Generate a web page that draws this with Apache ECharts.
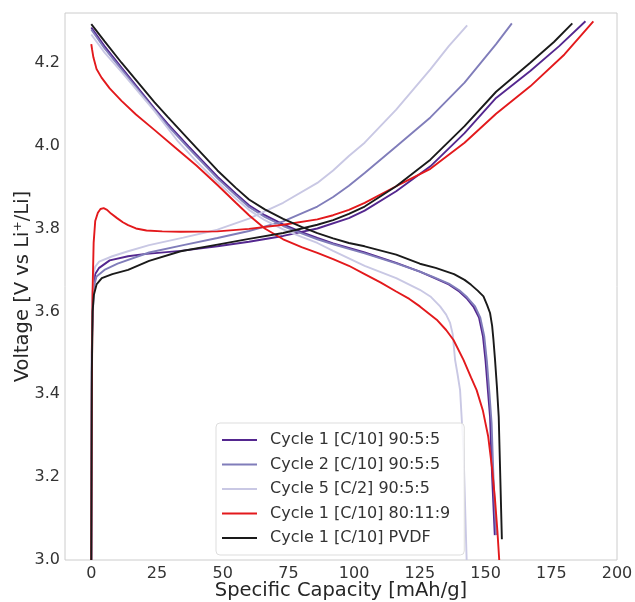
<!DOCTYPE html>
<html>
<head>
<meta charset="utf-8">
<script src="https://cdn.jsdelivr.net/npm/echarts@6/dist/echarts.min.js"></script>
<style>html,body{margin:0;padding:0;background:#fff}#c{width:635px;height:602px}</style>
</head>
<body>
<div id="c"></div>
<script>
const seriesNames = ['Cycle 1 [C/10] 90:5:5','Cycle 2 [C/10] 90:5:5','Cycle 5 [C/2] 90:5:5','Cycle 1 [C/10] 80:11:9','Cycle 1 [C/10] PVDF'];
const xTicks = [0,25,50,75,100,125,150,175,200];
const yTicks = [3.0,3.2,3.4,3.6,3.8,4.0,4.2];

const c1Charge = [[0,3.0],[0.2,3.5],[0.6,3.65],[1.5,3.69],[3,3.705],[7,3.723],[14,3.733],[20,3.738],[34,3.746],[48,3.757],[60,3.768],[73,3.782],[86,3.80],[98,3.825],[104,3.843],[116,3.89],[129,3.95],[142,4.03],[154,4.115],[167,4.18],[178,4.24],[188,4.30]];
const c1Discharge = [[0,4.285],[5,4.24],[11.5,4.188],[24,4.09],[29,4.053],[37,3.998],[48,3.925],[55,3.884],[60,3.856],[66,3.832],[73,3.81],[80,3.791],[86,3.777],[92,3.764],[98,3.753],[104,3.742],[116,3.717],[125,3.696],[130,3.682],[136,3.665],[140,3.648],[143,3.630],[145.5,3.61],[147.5,3.585],[149,3.54],[150,3.48],[151,3.40],[151.7,3.346],[152.5,3.2],[153.5,3.06]];

const c2Charge = [[0,3.0],[0.3,3.55],[1,3.66],[2,3.684],[5,3.70],[10,3.715],[22,3.742],[35,3.76],[48,3.777],[60,3.794],[73,3.817],[86,3.853],[92,3.876],[98,3.903],[104,3.934],[116,3.998],[129,4.068],[142,4.152],[154,4.245],[160,4.295]];
const c2Discharge = [[0,4.28],[5,4.235],[11.5,4.184],[24,4.086],[29,4.049],[37,3.994],[48,3.921],[55,3.88],[60,3.852],[66,3.828],[73,3.806],[80,3.788],[86,3.774],[92,3.762],[98,3.751],[104,3.74],[116,3.716],[125,3.696],[130,3.683],[136,3.667],[140,3.651],[143,3.634],[146,3.612],[148,3.585],[149.5,3.54],[150.5,3.48],[151.5,3.40],[152.3,3.33],[153,3.2],[154,3.06]];

const c5Charge = [[0,3.0],[0.3,3.6],[0.8,3.69],[1.5,3.708],[3,3.72],[8,3.733],[14,3.745],[22,3.76],[35,3.778],[48,3.797],[60,3.824],[73,3.862],[86,3.91],[92,3.94],[98,3.975],[104,4.007],[116,4.087],[129,4.184],[136,4.24],[143,4.29]];
const c5Discharge = [[0,4.268],[5,4.225],[11.5,4.178],[24,4.084],[33,4.01],[40,3.962],[48,3.912],[55,3.872],[60,3.845],[66,3.82],[73,3.798],[80,3.78],[86,3.765],[92,3.746],[98,3.728],[104,3.71],[116,3.68],[125,3.652],[129,3.636],[132.7,3.612],[135,3.592],[136.5,3.572],[137.5,3.545],[138,3.51],[138.4,3.483],[139.3,3.45],[140.3,3.41],[141.6,3.266],[142.8,3.0]];

const redCharge = [[0,3.0],[0.2,3.4],[0.5,3.65],[0.9,3.766],[1.5,3.818],[2.5,3.838],[3.5,3.847],[4.7,3.849],[6,3.845],[7.5,3.836],[9.8,3.825],[12,3.815],[14,3.808],[17,3.80],[21,3.795],[27,3.793],[34,3.792],[48,3.793],[60,3.799],[73,3.809],[86,3.822],[92,3.832],[98,3.845],[104,3.862],[116,3.902],[129,3.944],[142,4.007],[154,4.077],[167,4.143],[180,4.22],[191,4.30]];
const redDischarge = [[0,4.245],[0.3,4.232],[0.8,4.213],[2,4.185],[3.9,4.164],[7,4.138],[11.5,4.108],[17,4.075],[24,4.038],[32,3.995],[40,3.952],[48,3.905],[55,3.862],[60,3.832],[66,3.80],[73,3.774],[80,3.755],[86,3.741],[92,3.726],[98,3.71],[104,3.69],[110,3.67],[116,3.648],[121,3.63],[125,3.612],[131.4,3.58],[135,3.555],[137.8,3.531],[141.6,3.483],[144.5,3.44],[146.6,3.41],[149,3.36],[151,3.298],[152.5,3.22],[153.6,3.145],[154.5,3.07],[155.2,3.0]];

const pvdfCharge = [[0,3.0],[0.2,3.45],[0.5,3.6],[1,3.64],[2,3.665],[4,3.68],[8,3.69],[14,3.70],[22,3.722],[34,3.745],[48,3.761],[60,3.775],[73,3.789],[86,3.809],[92,3.82],[98,3.835],[104,3.853],[116,3.902],[129,3.966],[142,4.047],[154,4.13],[167,4.20],[176,4.25],[183,4.295]];
const pvdfDischarge = [[0,4.293],[5,4.252],[11.5,4.2],[24,4.105],[29,4.07],[37,4.015],[48,3.94],[55,3.898],[60,3.87],[66,3.846],[73,3.823],[80,3.804],[86,3.789],[92,3.776],[98,3.765],[104,3.757],[116,3.737],[125,3.715],[131,3.705],[138,3.69],[142,3.676],[144.5,3.664],[147,3.65],[149.2,3.636],[150.6,3.615],[151.7,3.596],[152.5,3.565],[153,3.531],[153.6,3.483],[154.3,3.42],[155,3.346],[155.6,3.2],[156.2,3.05]];

const colors = ['#54278f','#807dba','#c9c8e4','#e3191c','#1a1a1a'];
const curves = [
  [c1Charge, c1Discharge],
  [c2Charge, c2Discharge],
  [c5Charge, c5Discharge],
  [redCharge, redDischarge],
  [pvdfCharge, pvdfDischarge]
];

const FONT = 'DejaVu Sans';
const series = [];
curves.forEach((pair, i) => {
  pair.forEach(d => {
    series.push({
      type: 'line', name: seriesNames[i], data: d,
      showSymbol: false, symbol: 'none', animation: false,
      lineStyle: { color: colors[i], width: 1.9 },
      itemStyle: { color: colors[i] }
    });
  });
});

const chart = echarts.init(document.getElementById('c'), null, { renderer: 'canvas' });
chart.setOption({
  animation: false,
  grid: { left: 65, right: 18, top: 13, bottom: 42, outerBoundsMode: 'none', containLabel: false, show: true, borderColor: '#cccccc', borderWidth: 1, backgroundColor: 'transparent' },
  xAxis: {
    type: 'value', min: -10, max: 200,
    name: 'Specific Capacity [mAh/g]', nameLocation: 'middle', nameGap: 21, nameMoveOverlap: false,
    nameTextStyle: { fontFamily: FONT, fontSize: 19.5, color: '#262626', verticalAlign: 'top' },
    axisLine: { show: false }, axisTick: { show: false }, splitLine: { show: false },
    axisLabel: { customValues: xTicks, fontFamily: FONT, fontSize: 16, color: '#333', margin: 6, formatter: v => String(Math.round(v)) }
  },
  yAxis: {
    type: 'value', min: 3.0, max: 4.32,
    name: 'Voltage [V vs Li\u207A/Li]', nameLocation: 'middle', nameGap: 32, nameMoveOverlap: false,
    nameTextStyle: { fontFamily: FONT, fontSize: 19.5, color: '#262626' },
    axisLine: { show: false }, axisTick: { show: false }, splitLine: { show: false },
    axisLabel: { customValues: yTicks, fontFamily: FONT, fontSize: 16, color: '#333', margin: 5, formatter: v => v.toFixed(1) }
  },
  legend: {
    data: seriesNames, orient: 'vertical', left: 216, top: 423,
    icon: 'rect', itemWidth: 35, itemHeight: 2, itemGap: 6.5,
    padding: [8, 14, 8, 6],
    backgroundColor: 'rgba(255,255,255,0.85)', borderColor: '#dddddd', borderWidth: 1, borderRadius: 4,
    textStyle: { fontFamily: FONT, fontSize: 16, color: '#333', lineHeight: 18, padding: [0, 0, 0, 8] }
  },
  series: series
});
</script>
</body>
</html>
